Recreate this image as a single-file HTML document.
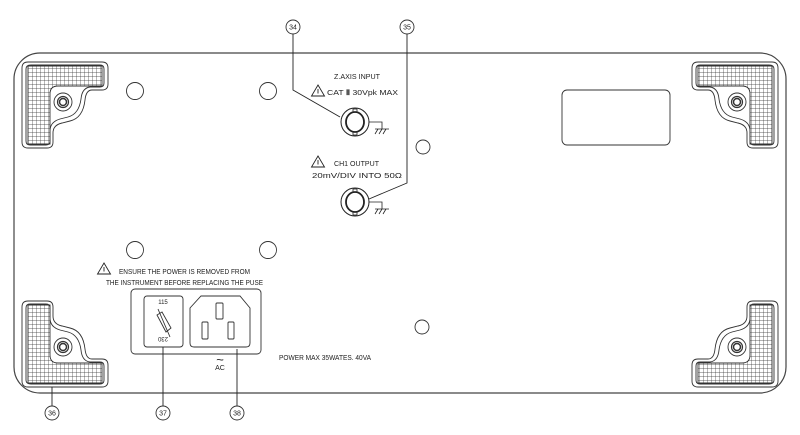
<!DOCTYPE html>
<html><head><style>html,body{margin:0;padding:0;background:#fff}svg{display:block}text{font-family:"Liberation Sans",sans-serif;fill:#222}</style></head><body>
<svg width="800" height="435" viewBox="0 0 800 435" xmlns="http://www.w3.org/2000/svg">
<defs>
<pattern id="g" width="4" height="4" patternUnits="userSpaceOnUse"><path d="M0 0H4M0 0V4" stroke="#333" stroke-width="0.7" fill="none"/></pattern>
<g id="foot" fill="none" stroke="#333" stroke-width="0.9">
<path d="M30 62H102Q108 62 108 68V84Q108 90 102 90H92Q86 90 85 100Q83 118 70 121L62 123Q53 125 53 133V142Q53 148 47 148H28Q22 148 22 142V68Q22 62 28 62Z"/>
<path d="M31 65H100Q104 65 104 69V83Q104 87 100 87H90Q82 88 81 99Q79 114 68 117L60 119Q50 122 50 131V141Q50 145 46 145H30Q26 145 26 141V69Q26 65 31 65Z"/>
<path d="M28 66H102V86H58Q50 86 50 94V144H28Z" fill="url(#g)" stroke="#333"/>
<circle cx="63" cy="102" r="9"/><circle cx="63" cy="102" r="5.5" stroke-width="1.2"/><circle cx="63" cy="102" r="3.5" stroke-width="1.5"/>
</g>
<g id="bnc" fill="none" stroke="#222" stroke-width="1.2">
<circle r="14" stroke-width="1"/><ellipse rx="9" ry="10" stroke-width="1.8"/>
<rect x="-2" y="-13" width="4" height="3" stroke-width="0.8"/><rect x="-2" y="10" width="4" height="3" stroke-width="0.8"/>
<path d="M14 0H27V7M20 7H34M23 7L20 12M27 7L24 12M31 7L28 12" stroke-width="0.8"/>
</g>
<g id="warn" fill="none" stroke="#222" stroke-width="0.9"><path d="M0 -6L6.5 5H-6.5Z"/><path d="M0 -2V2.5"/></g>
</defs>
<rect x="14" y="53" width="772" height="340" rx="26" fill="none" stroke="#444" stroke-width="1.2"/>
<use href="#foot"/>
<use href="#foot" transform="translate(800,0) scale(-1,1)"/>
<use href="#foot" transform="translate(0,449) scale(1,-1)"/>
<use href="#foot" transform="translate(800,449) scale(-1,-1)"/>
<g fill="none" stroke="#333" stroke-width="0.9">
<circle cx="135" cy="91" r="8.5"/><circle cx="268" cy="91" r="8.5"/><circle cx="423" cy="147" r="7"/>
<circle cx="135" cy="250" r="8.5"/><circle cx="268" cy="250" r="8.5"/><circle cx="422" cy="327" r="7"/>
<rect x="562" y="90" width="108" height="55" rx="5"/>
<rect x="131" y="289" width="130" height="65" rx="4"/>
<rect x="144" y="296" width="39" height="51" rx="3"/>
<path d="M201 296H240L250 308V343Q250 347 246 347H194Q190 347 190 343V308Z"/>
<rect x="216" y="303" width="7" height="16" rx="1"/><rect x="202" y="322" width="6" height="17" rx="1"/><rect x="228" y="322" width="6" height="17" rx="1"/>
<path d="M157 315L166 332L171 328L162 312Z"/><path d="M158 309L170 337"/>
<path d="M293 34V90L340 117M407 34V183L369 199M163 347V406M237 349V406M52 387V406" stroke="#222"/>
<circle cx="293" cy="27" r="7"/><circle cx="407" cy="27" r="7"/><circle cx="52" cy="413" r="7"/><circle cx="163" cy="413" r="7"/><circle cx="237" cy="413" r="7"/>
</g>
<use href="#bnc" transform="translate(355,122)"/>
<use href="#bnc" transform="translate(355,202)"/>
<use href="#warn" transform="translate(318,91)"/>
<use href="#warn" transform="translate(318,162)"/>
<use href="#warn" transform="translate(104,269)"/>
<g font-size="7" text-anchor="middle">
<text x="293" y="29.5">34</text><text x="407" y="29.5">35</text><text x="52" y="415.5">36</text><text x="163" y="415.5">37</text><text x="237" y="415.5">38</text>
</g>
<g font-size="7.5">
<text x="334" y="79" textLength="46" lengthAdjust="spacingAndGlyphs">Z.AXIS INPUT</text>
<text x="327" y="95" textLength="71" lengthAdjust="spacingAndGlyphs">CAT <tspan font-weight="bold">Ⅱ</tspan>  30Vpk  MAX</text>
<text x="334" y="166" textLength="45" lengthAdjust="spacingAndGlyphs">CH1 OUTPUT</text>
<text x="312" y="178" textLength="90" lengthAdjust="spacingAndGlyphs">20mV/DIV INTO 50Ω</text>
<text x="119" y="274" textLength="131" lengthAdjust="spacingAndGlyphs">ENSURE THE POWER IS REMOVED FROM</text>
<text x="106" y="285" textLength="157" lengthAdjust="spacingAndGlyphs">THE INSTRUMENT BEFORE REPLACING THE PUSE</text>
<text x="279" y="360" font-size="7" textLength="92" lengthAdjust="spacingAndGlyphs">POWER MAX  35WATES.  40VA</text>
<text x="220" y="370" font-size="7" text-anchor="middle">AC</text>
<text x="220" y="364" font-size="13" text-anchor="middle">~</text>
<text x="163" y="304" font-size="6" text-anchor="middle">115</text>
<text x="163" y="341" font-size="6" text-anchor="middle" transform="rotate(180 163 339)">230</text>
</g>
</svg>
</body></html>
